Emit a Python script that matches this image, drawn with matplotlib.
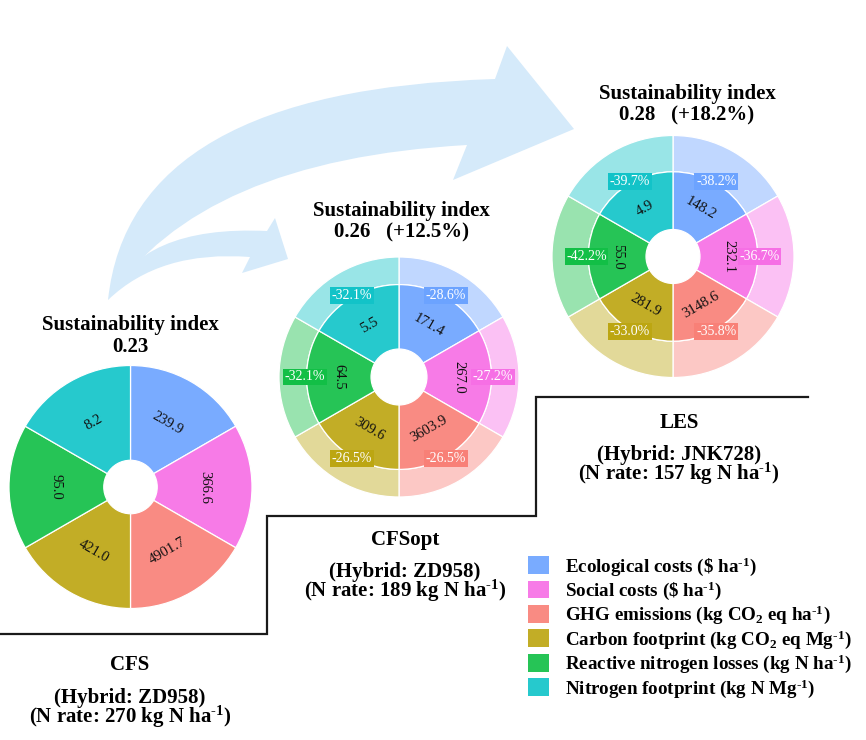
import numpy as np
import matplotlib
matplotlib.use('Agg')
import matplotlib.pyplot as plt
from matplotlib.path import Path
from matplotlib.patches import PathPatch, Patch
from matplotlib.colors import to_rgb

plt.rcParams['font.family'] = ['Liberation Serif', 'DejaVu Serif']
plt.rcParams['mathtext.fontset'] = 'custom'
plt.rcParams['mathtext.rm'] = 'Liberation Serif:bold'
plt.rcParams['mathtext.bf'] = 'Liberation Serif:bold'
plt.rcParams['mathtext.it'] = 'Liberation Serif:bold:italic'
plt.rcParams['mathtext.default'] = 'rm'

SUP = r'$^{\text{-}1}$'

# ---------------- data ----------------
categories = [r'Ecological costs (\$ ha' + SUP + ')',
              r'Social costs (\$ ha' + SUP + ')',
              r'GHG emissions (kg CO$_2$ eq ha' + SUP + ')',
              r'Carbon footprint (kg CO$_2$ eq Mg' + SUP + ')',
              r'Reactive nitrogen losses (kg N ha' + SUP + ')',
              r'Nitrogen footprint (kg N Mg' + SUP + ')']
base_colors = ['#619CFF', '#F564E3', '#F8766D', '#B79F00', '#00BA38', '#00BFC4']

systems = ['CFS', 'CFSopt', 'LES']
hybrids = ['ZD958', 'ZD958', 'JNK728']
n_rates = [270, 189, 157]
sust_index = [0.23, 0.26, 0.28]
sust_change = [None, 12.5, 18.2]

values_cfs = [239.9, 366.6, 4901.7, 421.0, 95.0, 8.2]
values_cfsopt = [171.4, 267.0, 3603.9, 309.6, 64.5, 5.5]
values_les = [148.2, 232.1, 3148.6, 281.9, 55.0, 4.9]
pct_cfsopt = [-28.6, -27.2, -26.5, -26.5, -32.1, -32.1]
pct_les = [-38.2, -36.7, -35.8, -33.0, -42.2, -39.7]

# ---------------- layout ----------------
W, H = 866, 740
fig = plt.figure(figsize=(W / 100, H / 100), dpi=100)
fig.patch.set_facecolor('white')

bg = fig.add_axes([0, 0, 1, 1])
bg.set_xlim(0, W)
bg.set_ylim(H, 0)
bg.axis('off')


def blend(c, a):
    r = np.array(to_rgb(c))
    return tuple(r * a + (1 - a))


inner_cols = [blend(c, 0.85) for c in base_colors]
light_cols = [blend(c, 0.40) for c in base_colors]
box_cols = [blend(c, 0.93) for c in base_colors]

arrow_col = '#d5eafa'

# big arrow
big = Path([(108, 300), (130, 90), (495, 79), (507, 46), (574, 129),
            (453, 180), (467, 145), (200, 160), (108, 300), (108, 300)],
           [Path.MOVETO, Path.CURVE3, Path.CURVE3, Path.LINETO, Path.LINETO,
            Path.LINETO, Path.LINETO, Path.CURVE3, Path.CURVE3, Path.CLOSEPOLY])
bg.add_patch(PathPatch(big, fc=arrow_col, ec='none'))
small = Path([(108, 300), (140, 225), (267, 231), (275, 218), (288, 259),
              (242, 273), (250, 257), (160, 250), (108, 300), (108, 300)],
             [Path.MOVETO, Path.CURVE3, Path.CURVE3, Path.LINETO, Path.LINETO,
              Path.LINETO, Path.LINETO, Path.CURVE3, Path.CURVE3, Path.CLOSEPOLY])
bg.add_patch(PathPatch(small, fc=arrow_col, ec='none'))

# staircase
bg.plot([0, 267, 267, 536, 536, 808], [634, 634, 516, 516, 397, 397],
        color='#1a1a1a', lw=1.6, solid_joinstyle='miter')


def draw_pie(cx, cy, R, values, pct, inner_frac, hole_frac):
    ax = fig.add_axes([(cx - R) / W, 1 - (cy + R) / H, 2 * R / W, 2 * R / H])
    n = len(values)
    sizes = np.ones(n)
    wp = dict(edgecolor='white', linewidth=0.9)
    if pct is None:
        ax.pie(sizes, radius=1, colors=inner_cols, startangle=90, counterclock=False,
               wedgeprops=dict(width=1 - hole_frac, **wp))
        r_in = 1.0
    else:
        ax.pie(sizes, radius=1, colors=light_cols, startangle=90, counterclock=False,
               wedgeprops=dict(width=1 - inner_frac, **wp))
        ax.pie(sizes, radius=inner_frac, colors=inner_cols, startangle=90, counterclock=False,
               wedgeprops=dict(width=inner_frac - hole_frac, **wp))
        r_in = inner_frac
    ax.set_xlim(-1, 1)
    ax.set_ylim(-1, 1)
    ax.set_aspect('equal')
    ax.axis('off')
    rmid = (hole_frac + r_in) / 2
    for i, v in enumerate(values):
        th = 90 - 360 / n * (i + 0.5)
        rot = th - 90
        while rot < -90:
            rot += 180
        while rot > 90:
            rot -= 180
        t = np.deg2rad(th)
        ax.text(rmid * np.cos(t), rmid * np.sin(t), f'{v:.1f}', rotation=rot,
                rotation_mode='anchor', ha='center', va='center', fontsize=10.5,
                color='#111111')
        if pct is not None:
            rp = r_in + 0.015
            ax.text(rp * np.cos(t), rp * np.sin(t), f'{pct[i]:.1f}%', color='white',
                    fontsize=10, ha='center', va='center',
                    bbox=dict(boxstyle='square,pad=0.12', fc=box_cols[i], ec='none'))
    return ax


draw_pie(130.5, 487, 121.5, values_cfs, None, 1.0, 0.22)
draw_pie(399, 377, 120, values_cfsopt, pct_cfsopt, 0.77, 0.233)
draw_pie(673, 256.5, 121, values_les, pct_les, 0.70, 0.223)

# titles
title_pos = [(130, 336), (401, 222), (687, 105)]
for (x, y), s, ch in zip(title_pos, sust_index, sust_change):
    line2 = f'{s:.2f}' if ch is None else f'{s:.2f}   (+{ch:.1f}%)'
    bg.text(x, y, 'Sustainability index\n' + line2, ha='center', va='center',
            fontsize=15, fontweight='bold', linespacing=1.12)

# system labels
sys_pos = [(130, 665, 709), (405, 540, 583), (679, 423, 466)]
for (x, y1, y2), name, hyb, nr in zip(sys_pos, systems, hybrids, n_rates):
    bg.text(x, y1, name, ha='center', va='center', fontsize=15, fontweight='bold')
    bg.text(x, y2, f'(Hybrid: {hyb})\n(N rate: {nr} kg N ha' + SUP + ')',
            ha='center', va='center', fontsize=15, fontweight='bold',
            linespacing=0.82)

# legend
handles = [Patch(facecolor=c, edgecolor='none') for c in inner_cols]
fig.legend(handles, categories, loc='upper left',
           bbox_to_anchor=(528 / W, 1 - 555 / H), frameon=False,
           prop=dict(family='Liberation Serif', weight='bold', size=13.7),
           handlelength=1.1, handleheight=1.05, handletextpad=0.85,
           labelspacing=0.1, borderpad=0, borderaxespad=0)

fig.savefig('out.png', dpi=100)
